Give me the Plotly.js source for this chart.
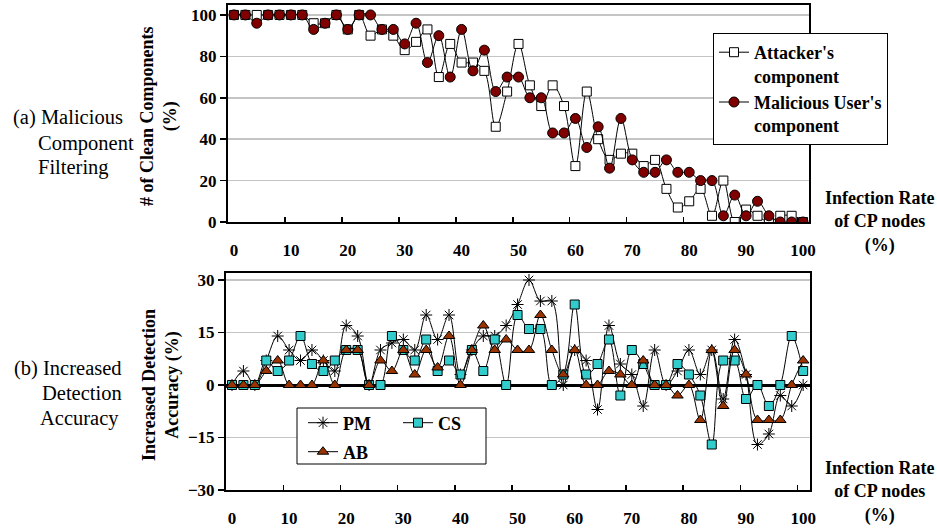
<!DOCTYPE html>
<html><head><meta charset="utf-8">
<script src="https://cdn.plot.ly/plotly-3.0.1.min.js"></script>
<style>html,body{margin:0;padding:0;background:#fff}#chart{width:937px;height:529px}</style>
</head><body><div id="chart"></div>
<script>
// Infection rate of CP nodes (%)
const infectionRate = [0,2,4,6,8,10,12,14,16,18,20,22,24,26,28,30,32,34,36,38,40,42,44,46,48,50,52,54,56,58,60,62,64,66,68,70,72,74,76,78,80,82,84,86,88,90,92,94,96,98,100];
// (a) # of clean components (%)
const attackerComp = [100,100,100,100,100,100,100,96,96,100,93,100,90,93,90,83,87,93,70,86,77,77,73,46,63,86,66,56,66,56,27,63,40,30,33,33,27,30,16,7,10,16,3,20,0,6,3,0,3,3,0];
const maliciousComp = [100,100,96,100,100,100,100,93,96,100,93,100,100,93,93,86,96,77,90,70,93,73,83,63,70,70,60,60,43,43,50,36,46,26,50,30,24,24,30,24,24,20,20,3,13,3,10,3,0,0,0];
// (b) increased detection accuracy (%)
const pmAcc = [0,4,0,7,14,10,7,10,7,4,17,14,0,10,12,13,10,20,13,20,3,10,14,14,17,23,30,24,24,0,10,7,-7,17,6,3,-6,10,0,4,10,3,10,-4,13,3,-17,-14,-3,-6,0];
const csAcc = [0,0,0,7,4,7,14,6,4,7,10,10,0,0,14,10,7,13,4,7,3,10,4,13,0,20,16,16,0,3,23,3,6,13,-3,10,6,0,0,6,3,-3,-17,7,7,-4,0,-6,0,14,4];
const abAcc = [0,0,0,4,7,0,0,0,7,0,10,10,0,7,4,10,3,10,5,14,0,10,17,10,13,10,10,20,10,3,10,0,0,4,3,0,7,0,0,-3,0,-10,10,-6,10,3,-10,-10,-10,0,7];
// tick labels
const xTickVals = [0,10,20,30,40,50,60,70,80,90,100];
const xBoundaryTicks = [9,19,29,39,49,59,69,79,89,99];
const yTopTicks = [0,20,40,60,80,100];
const yBotTicks = [-30,-15,0,15,30];
const seriesNames = ["Attacker's<br>component", "Malicious User's<br>component", "PM", "CS", "AB"];

const W = 937, H = 529;
const fx = p => p / W;
const fy = p => 1 - p / H;
const FONT = 'Liberation Serif, Times New Roman, serif';
const BLACK = '#000';

const lineStyle = {shape: 'spline', smoothing: 1, color: BLACK, width: 1};

const traces = [
  {x: infectionRate, y: attackerComp, name: seriesNames[0], xaxis: 'x', yaxis: 'y', mode: 'lines+markers',
   line: lineStyle, marker: {symbol: 'square', size: 9, color: '#fff', line: {color: BLACK, width: 1}}, legend: 'legend'},
  {x: infectionRate, y: maliciousComp, name: seriesNames[1], xaxis: 'x', yaxis: 'y', mode: 'lines+markers',
   line: lineStyle, marker: {symbol: 'circle', size: 10, color: '#800000', line: {color: BLACK, width: 1}}, legend: 'legend'},
  {x: infectionRate, y: pmAcc, name: seriesNames[2], xaxis: 'x2', yaxis: 'y2', mode: 'lines+markers',
   line: lineStyle, marker: {symbol: 'asterisk-open', size: 10, color: BLACK, line: {color: BLACK, width: 1}}, legend: 'legend2'},
  {x: infectionRate, y: csAcc, name: seriesNames[3], xaxis: 'x2', yaxis: 'y2', mode: 'lines+markers',
   line: lineStyle, marker: {symbol: 'square', size: 9, color: '#33CCCC', line: {color: BLACK, width: 1}}, legend: 'legend2'},
  {x: infectionRate, y: abAcc, name: seriesNames[4], xaxis: 'x2', yaxis: 'y2', mode: 'lines+markers',
   line: lineStyle, marker: {symbol: 'triangle-up', size: 10, color: '#993300', line: {color: BLACK, width: 1}}, legend: 'legend3'}
];

const tickFont = {family: FONT, size: 17, weight: 700, color: BLACK};
const legFont = {family: FONT, size: 18, weight: 700, color: BLACK};

function xAxis(domain, range, anchor) {
  return {domain: domain, range: range, anchor: anchor, tickmode: 'array', tickvals: xTickVals,
    ticks: '', ticklabelstandoff: 12, tickfont: tickFont, showgrid: false, zeroline: false,
    showline: true, linecolor: BLACK, linewidth: 2, mirror: true,
    minor: {tickmode: 'array', tickvals: xBoundaryTicks, ticks: 'inside', ticklen: 5, tickwidth: 1.5, tickcolor: BLACK, showgrid: false}};
}
function yAxis(domain, range, anchor, vals, zl) {
  return {domain: domain, range: range, anchor: anchor, tickmode: 'array', tickvals: vals,
    ticks: 'outside', ticklen: 6, tickwidth: 1.5, tickcolor: BLACK, ticklabelstandoff: 0, tickfont: tickFont,
    showgrid: true, gridcolor: '#c4c4c4', gridwidth: 1.5,
    zeroline: zl, zerolinecolor: BLACK, zerolinewidth: 3,
    showline: true, linecolor: BLACK, linewidth: 2, mirror: true};
}
function yOverlay(over, anchor, range, vals) {
  return {overlaying: over, anchor: anchor, range: range, tickmode: 'array', tickvals: vals,
    ticks: 'inside', ticklen: 6, tickwidth: 1.5, tickcolor: BLACK, showticklabels: false,
    showgrid: false, zeroline: false, showline: false};
}

const topX = [fx(228), fx(809)], botX = [fx(226), fx(810)];
const topY = [fy(222), fy(5)], botY = [fy(490), fy(273)];
const topYRange = [0, 104.8], botYRange = [-30, 32];

const ann = (text, x, y, opts) => Object.assign({text: text, x: x, y: y, xref: 'paper', yref: 'paper', showarrow: false,
  xanchor: 'center', yanchor: 'middle',
  font: {family: FONT, size: 18, weight: 700, color: BLACK}}, opts || {});
const regFont = {family: FONT, size: 20.5, color: BLACK};

const layout = {
  width: W, height: H, margin: {l: 0, r: 0, t: 0, b: 0},
  font: {family: FONT, color: BLACK},
  paper_bgcolor: '#fff', plot_bgcolor: '#fff', showlegend: true,
  xaxis: xAxis(topX, [-1.05, 101.05], 'y'),
  yaxis: yAxis(topY, topYRange, 'x', yTopTicks, false),
  xaxis2: xAxis(botX, [-1.05, 101.2], 'y2'),
  yaxis2: yAxis(botY, botYRange, 'x2', yBotTicks, true),
  yaxis3: yOverlay('y', 'x', topYRange, yTopTicks),
  yaxis4: yOverlay('y2', 'x2', botYRange, yBotTicks),
  legend: {x: fx(713), y: fy(33), xanchor: 'left', yanchor: 'top', bgcolor: '#fff', bordercolor: BLACK, borderwidth: 1,
    font: legFont, valign: 'top', tracegroupgap: 0},
  legend2: {x: fx(303), y: fy(423), xanchor: 'left', yanchor: 'middle', orientation: 'h', entrywidth: 50,
    bgcolor: 'rgba(0,0,0,0)', borderwidth: 0, font: legFont},
  legend3: {x: fx(303), y: fy(452), xanchor: 'left', yanchor: 'middle', orientation: 'h',
    bgcolor: 'rgba(0,0,0,0)', borderwidth: 0, font: legFont},
  shapes: [{type: 'rect', xref: 'paper', yref: 'paper', x0: fx(297), x1: fx(486), y0: fy(464), y1: fy(408),
    fillcolor: '#fff', line: {color: BLACK, width: 1}, layer: 'above'}],
  annotations: [
    ann('# of Clean Components<br>(%)', fx(159), fy(116), {textangle: -90}),
    ann('Increased Detection<br>Accuracy (%)', fx(161), fy(385), {textangle: -90}),
    ann('Infection Rate<br>of CP nodes<br>(%)', fx(879), fy(222)),
    ann('Infection Rate<br>of CP nodes<br>(%)', fx(879), fy(492)),
    ann('(a) Malicious', fx(11), fy(117), {xanchor: 'left', font: regFont}),
    ann('Component', fx(36), fy(143), {xanchor: 'left', font: regFont}),
    ann('Filtering', fx(36), fy(167), {xanchor: 'left', font: regFont}),
    ann('(b) Increased', fx(12), fy(368), {xanchor: 'left', font: regFont}),
    ann('Detection', fx(40), fy(393), {xanchor: 'left', font: regFont}),
    ann('Accuracy', fx(38), fy(418), {xanchor: 'left', font: regFont})
  ]
};

Plotly.newPlot('chart', traces, layout, {displayModeBar: false, staticPlot: true});
</script>
</body></html>
